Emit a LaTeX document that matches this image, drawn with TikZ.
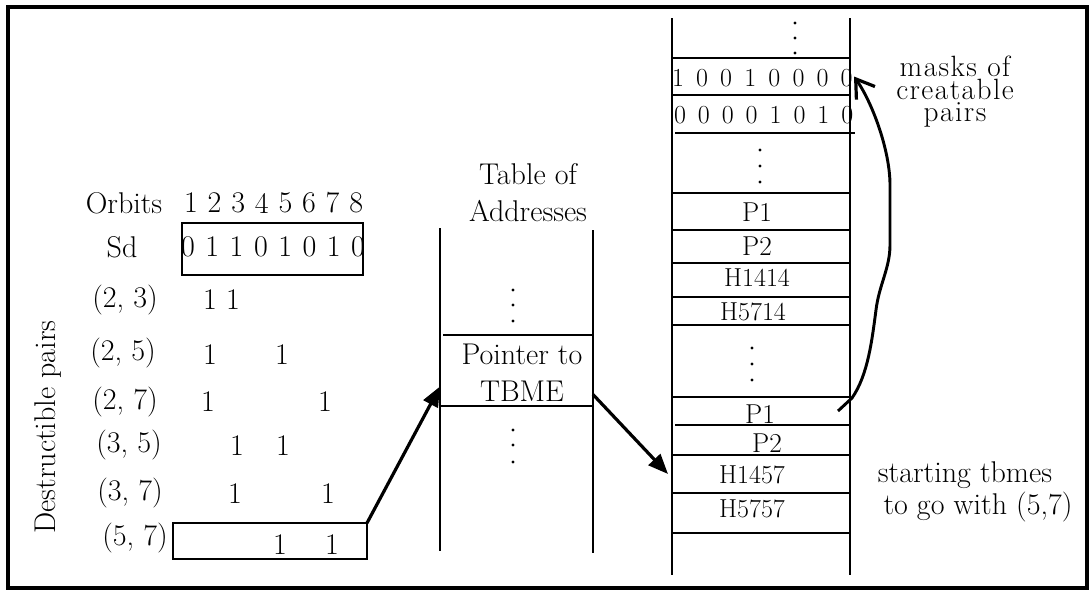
\documentclass[tikz,border=0pt]{standalone}
\usepackage{fontspec}
\usetikzlibrary{arrows.meta}
\newfontfamily\maskfont[LetterSpace=5]{Latin Modern Roman}
\tikzset{
  x=0.75pt, y=-0.75pt,
  txt/.style={font=\fontsize{22.5}{27.75}\selectfont, inner sep=0pt, align=center},
  digit/.style={font=\fontsize{22.5}{27}\selectfont, inner sep=0pt},
  mdigit/.style={font=\fontsize{19.5}{22}\selectfont, inner sep=0pt},
  ptxt/.style={font=\fontsize{20.5}{22}\selectfont, inner sep=0pt},
  htxt/.style={font=\fontsize{19.5}{22}\selectfont, inner sep=0pt},
  masktxt/.style={font=\maskfont\fontsize{22}{16.9}\selectfont, inner sep=0pt, align=center},
  cell/.style={minimum width=133.5pt, inner sep=0pt, outer sep=0pt},
  tline/.style={line width=1.5pt},
  boxed/.style={draw, line width=2.2pt, inner sep=0pt, outer sep=0pt},
  arr/.style={line width=2.4pt, -{Triangle[length=15pt,width=12pt]}},
  curvearr/.style={line width=2.2pt, -{Straight Barb[length=13pt,width=17pt,line width=2.4pt]}},
  dotmark/.style={fill=black},
}
\begin{document}
\begin{tikzpicture}
\useasboundingbox (0,0) rectangle (1092,593);
\draw[line width=2.6pt] (8,7) rectangle (1087,588);

% ---------- left part ----------
\node[txt] (orb) at (124,203) {Orbits};
\foreach \i in {1,...,8} \node[digit] (hd\i) at ({191+23.6*(\i-1)},203) {\i};
\node[txt] (sd) at (122,247) {Sd};
\foreach \d [count=\i] in {0,1,1,0,1,0,1,0} \node[digit] (sdd\i) at ({188+24.3*(\i-1)},247) {\d};
\node[boxed, minimum width=135.75pt, minimum height=39pt] (sdbox) at (272.5,249) {};

\node[txt] (r23) at (125,300) {(2, 3)};
\node[txt] (r25) at (123,353) {(2, 5)};
\node[txt] (r27) at (125,402) {(2, 7)};
\node[txt] (r35) at (129,445) {(3, 5)};
\node[txt] (r37) at (130,493) {(3, 7)};
\node[txt] (r57) at (135,538) {(5, 7)};

\node[digit] (a1) at (210,300) {1};
\node[digit] (a2) at (233,300) {1};
\node[digit] (b1) at (210,355) {1};
\node[digit] (b2) at (282,355) {1};
\node[digit] (c1) at (208,402) {1};
\node[digit] (c2) at (325,402) {1};
\node[digit] (d1) at (237,446) {1};
\node[digit] (d2) at (283,446) {1};
\node[digit] (e1) at (235,494) {1};
\node[digit] (e2) at (328,494) {1};
\node[digit] (f1) at (280,545) {1};
\node[digit] (f2) at (332,545) {1};
\node[boxed, minimum width=145.5pt, minimum height=27pt] (b57) at (270,541) {};

\node[txt, rotate=90] (dp) at (48,427) {Destructible pairs};

% ---------- middle table ----------
\node[txt] (tab) at (528,193) {Table of\\Addresses};
\draw[tline] (440,228) -- (440,551);
\draw[tline] (593,230) -- (593,553);
\draw[tline] (443,335) -- (592,335);
\draw[tline] (440,406) -- (593,406);
\node[cell, minimum width=114.75pt, minimum height=53.25pt] (ptr) at (516.5,370.5) {};
\node[txt] (ptrtxt) at (522,373) {Pointer to\\TBME};
\foreach \yy in {290,305,321,430,445,462} \fill[dotmark] (513,\yy) circle (1.7);

% ---------- right column ----------
\node[cell, minimum height=27.75pt] (m1) at (761,76.5) {};
\node[cell, minimum height=28.5pt] (m2) at (761,114) {};
\foreach \d [count=\i] in {1,0,0,1,0,0,0,0} \node[mdigit] (ma\i) at ({678+24.1*(\i-1)},78) {\d};
\foreach \d [count=\i] in {0,0,0,0,1,0,1,0} \node[mdigit] (mb\i) at ({680+23.9*(\i-1)},115) {\d};

\node[ptxt] (p1a) at (757,212) {P1};
\node[ptxt] (p2a) at (757,246) {P2};
\node[htxt] (h1414) at (757,278) {H1414};
\node[htxt] (h5714) at (753,312) {H5714};
\node[ptxt] (p1btxt) at (760,414) {P1};
\node[ptxt] (p2btxt) at (767,443) {P2};
\node[htxt] (t1457) at (752,475) {H1457};
\node[htxt] (t5757) at (752,509) {H5757};
\node[cell, minimum height=21pt] (p1b) at (761,411) {};
\node[cell, minimum height=28.5pt] (h1457) at (761,474) {};

\foreach \yy in {23,38,53} \fill[dotmark] (795,\yy) circle (1.7);
\foreach \yy in {150,166,182} \fill[dotmark] (760,\yy) circle (1.7);
\foreach \yy in {348,364,380} \fill[dotmark] (752,\yy) circle (1.7);

\draw[tline] (672,18) -- (672,575);
\draw[tline] (850,18) -- (850,575);
\foreach \yy in {58,95,193,230,263,297,325,397,455,493,533} \draw[tline] (672,\yy) -- (850,\yy);
\draw[tline] (675,133) -- (855,133);
\draw[tline] (675,425) -- (850,425);

\node[masktxt] (mk) at (955,92) {masks of\\creatable\\pairs};
\node[txt] (st1) at (965,475) {starting tbmes};
\node[txt] (st2) at (978,507) {to go with (5,7)};

% ---------- connectors ----------
\draw[arr] (b57.north east) -- ([yshift=-12pt]ptr.west);
\draw[arr] ([yshift=-18pt]ptr.east) -- ([xshift=-3pt]h1457.west);
\coordinate (cv1) at (852,398);
\coordinate (cv2) at (876,310);
\coordinate (cv3) at (890,245);
\coordinate (cv4) at (890,185);
\draw[curvearr] ([xshift=-9pt]p1b.east) -- (cv1)
  .. controls (868,375) and (872,340) .. (cv2)
  .. controls (879,285) and (890,268) .. (cv3)
  -- (cv4)
  .. controls (890,150) and (872,102) .. ([xshift=3pt]m1.east);
\end{tikzpicture}
\end{document}
